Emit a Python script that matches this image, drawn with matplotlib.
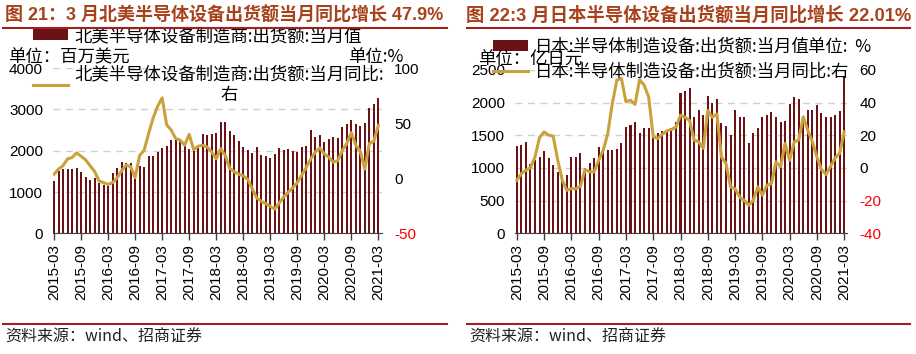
import numpy as np
import pandas as pd
import matplotlib
matplotlib.use('Agg')
import matplotlib.pyplot as plt
from matplotlib.lines import Line2D

plt.rcParams['font.family'] = ['Liberation Sans', 'Noto Sans CJK SC']
plt.rcParams['axes.unicode_minus'] = False

months = pd.period_range('2015-03', '2021-03', freq='M').strftime('%Y-%m').tolist()
tick_labels = months[::6]

# 北美: 百万美元 / 同比 %
us_value = [1266, 1516, 1556, 1556, 1556, 1573, 1492, 1355, 1290, 1330,
            1210, 1170, 1145, 1452, 1589, 1718, 1710, 1710, 1306, 1630, 1600, 1870,
            1860, 1970, 2060, 2110, 2270, 2260, 2240, 2150, 2040, 2000, 2060, 2400,
            2370, 2410, 2430, 2690, 2700, 2480, 2370, 2230, 2080, 2020, 1940, 2090,
            1900, 1860, 1820, 1920, 2060, 2020, 2030, 2000, 1960, 2080, 2120, 2490,
            2340, 2380, 2220, 2280, 2340, 2310, 2570, 2650, 2740, 2650, 2600, 2670,
            3030, 3140, 3270]
us_yoy = [3.7, 8.3, 11.4, 17.6, 18.8, 23.0, 20.0, 16.7, 11.4, 6.2,
          -2.5, -4.0, -5.6, -4.0, 0.3, 6.8, 12.0, 10.5, 0.6, 20.7, 25.3, 40.7,
          54.6, 65.4, 73.0, 48.5, 43.8, 36.0, 34.6, 30.0, 39.8, 26.0, 29.0, 30.0,
          28.4, 23.8, 17.6, 26.9, 20.7, 9.0, 5.9, 3.7, 2.2, -0.9, -9.6, -17.9,
          -21.0, -23.0, -25.6, -28.0, -22.5, -17.0, -12.7, -8.6, -4.0, 2.8, 9.9, 17.6,
          23.8, 27.5, 22.2, 19.1, 14.5, 16.0, 25.3, 31.5, 41.4, 30.0, 24.4, 8.3,
          31.5, 33.6, 47.9]

# 日本: 亿日元 / 同比 %
jp_value = [1337, 1357, 1398, 1060, 1120, 1173, 1265, 1150, 1045, 930,
            893, 893, 1163, 1173, 1235, 1000, 1080, 1148, 1327, 1286, 1276, 1276,
            1290, 1376, 1620, 1660, 1705, 1530, 1615, 1615, 1475, 1540, 1570, 1580,
            1605, 1705, 2140, 2180, 2215, 1785, 1885, 1810, 2100, 2000, 2050, 1680,
            1640, 1500, 1885, 1785, 1775, 1385, 1540, 1605, 1775, 1810, 1850, 1775,
            1705, 1715, 1975, 2080, 2050, 1705, 1885, 1885, 1960, 1835, 1775, 1775,
            1810, 1875, 2405]
jp_yoy = [-7.6, -3.5, -1.4, 0.2, 6.7, 18.6, 22.0, 20.0, 19.4, 4.7,
          -7.6, -13.7, -12.7, -12.7, -11.2, -1.0, -2.4, -2.4, 4.7, 10.8, 21.0, 39.4,
          53.7, 54.7, 40.4, 41.4, 38.8, 54.0, 50.6, 43.4, 19.0, 18.0, 20.6, 22.6,
          23.5, 25.0, 32.2, 31.0, 29.0, 17.0, 16.0, 12.0, 35.0, 31.0, 33.0, 6.7,
          2.7, -11.6, -12.7, -17.8, -19.8, -22.9, -19.8, -11.6, -16.7, -10.6, -9.6, 3.7,
          0.6, 14.9, 4.7, 15.9, 17.0, 31.2, 23.0, 16.0, 6.7, -1.0, -4.0, 1.0,
          6.0, 9.0, 22.01]

BAR = '#6B1216'
LINE = '#C9A23C'
TITLE = '#A8421C'
RULE = '#A32020'
W, H = 916, 354


def fx(px):
    return px / W


def fy(py):
    return 1 - py / H


fig = plt.figure(figsize=(W / 100, H / 100), dpi=100)


def panel(x0, x1, ytop, values, yoy, ymax, ystep, y2lim, y2step, xlim,
          bar_label, line_label, handle_x, bar_y, line_y):
    ax = fig.add_axes([fx(x0), fy(233.3), fx(x1) - fx(x0), fy(ytop) - fy(233.3)])
    x = np.arange(len(months))
    bars = ax.bar(x, values, width=0.45, color=BAR, zorder=2)
    ax.set_ylim(0, ymax)
    ax.set_yticks(np.arange(0, ymax + 1, ystep))
    ax.set_xlim(*xlim)
    ax.set_xticks(x[::6])
    ax.set_xticklabels(tick_labels, rotation=90, fontsize=11)
    ax.tick_params(axis='x', length=5, width=1, color='#404040', pad=3)
    ax.tick_params(axis='y', length=0, labelsize=11, pad=7)
    ax.yaxis.grid(True, color='#D0D0D0', linestyle=(0, (5, 4)), linewidth=1)
    ax.set_axisbelow(True)
    for s in ['left', 'right', 'top']:
        ax.spines[s].set_visible(False)
    ax.spines['bottom'].set_color('#404040')

    ax2 = ax.twinx()
    line, = ax2.plot(x, yoy, color=LINE, linewidth=2.2, zorder=3)
    ax2.set_ylim(*y2lim)
    ax2.set_yticks(np.arange(y2lim[0], y2lim[1] + 1, y2step))
    ax2.tick_params(axis='y', length=0, labelsize=11, pad=9)
    for t, v in zip(ax2.get_yticklabels(), ax2.get_yticks()):
        if v < 0:
            t.set_color('#FF0000')
    for s in ['left', 'right', 'top', 'bottom']:
        ax2.spines[s].set_visible(False)

    prop = {'family': ['Noto Sans CJK SC'], 'size': 12.5}
    leg1 = ax2.legend([bars], [bar_label], loc='center left', frameon=False,
                      bbox_to_anchor=(fx(handle_x), fy(bar_y)), bbox_transform=fig.transFigure,
                      borderaxespad=0, borderpad=0, handlelength=2.0, handleheight=0.6,
                      handletextpad=0.4, prop=prop)
    ax2.add_artist(leg1)
    leg2 = ax2.legend([line], [line_label], loc='upper left', frameon=False,
                      bbox_to_anchor=(fx(handle_x), fy(line_y - 10)), bbox_transform=fig.transFigure,
                      borderaxespad=0, borderpad=0, handlelength=2.0,
                      handletextpad=0.4, prop=prop)
    for t in leg2.get_texts():
        t.set_multialignment('center')
    return ax, ax2


panel(52.7, 381.7, 68.1, us_value, us_yoy, 4000, 1000, (-50, 100), 50, (-0.3, 72.75),
      '北美半导体设备制造商:出货额:当月值', '北美半导体设备制造商:出货额:当月同比:\n右',
      33, 36, 75)
panel(515, 846.7, 69.8, jp_value, jp_yoy, 2500, 500, (-40, 60), 20, (-0.4, 72.55),
      '日本:半导体制造设备:出货额:当月值', '日本:半导体制造设备:出货额:当月同比:右',
      493, 47, 73)

cjk = ['Noto Sans CJK SC']
fig.text(fx(8), fy(57), '单位：百万美元', fontsize=12.5, family=cjk, va='center')
fig.text(fx(348), fy(57), '单位:%', fontsize=12.5, family=cjk, va='center')
fig.text(fx(478), fy(60), '单位：亿日元', fontsize=12.5, family=cjk, va='center')
fig.text(fx(808), fy(47), '单位:  %', fontsize=12.5, family=cjk, va='center')

fig.text(fx(5), fy(15), '图 21：3 月北美半导体设备出货额当月同比增长 47.9%',
         fontsize=13, fontweight='bold', color=TITLE, va='center')
fig.text(fx(466), fy(15), '图 22:3 月日本半导体设备出货额当月同比增长 22.01%',
         fontsize=13.2, fontweight='bold', color=TITLE, va='center')

for a, b in [(3, 447), (467, 910)]:
    fig.add_artist(Line2D([fx(a), fx(b)], [fy(28), fy(28)], color=RULE, linewidth=1.5))
    fig.add_artist(Line2D([fx(a), fx(b)], [fy(324), fy(324)], color=RULE, linewidth=1.5))
    fig.text(fx(a + 2), fy(337), '资料来源：wind、招商证券', fontsize=11.5, family=cjk,
             va='center', color='#222222')

fig.savefig('out.png', dpi=100)
